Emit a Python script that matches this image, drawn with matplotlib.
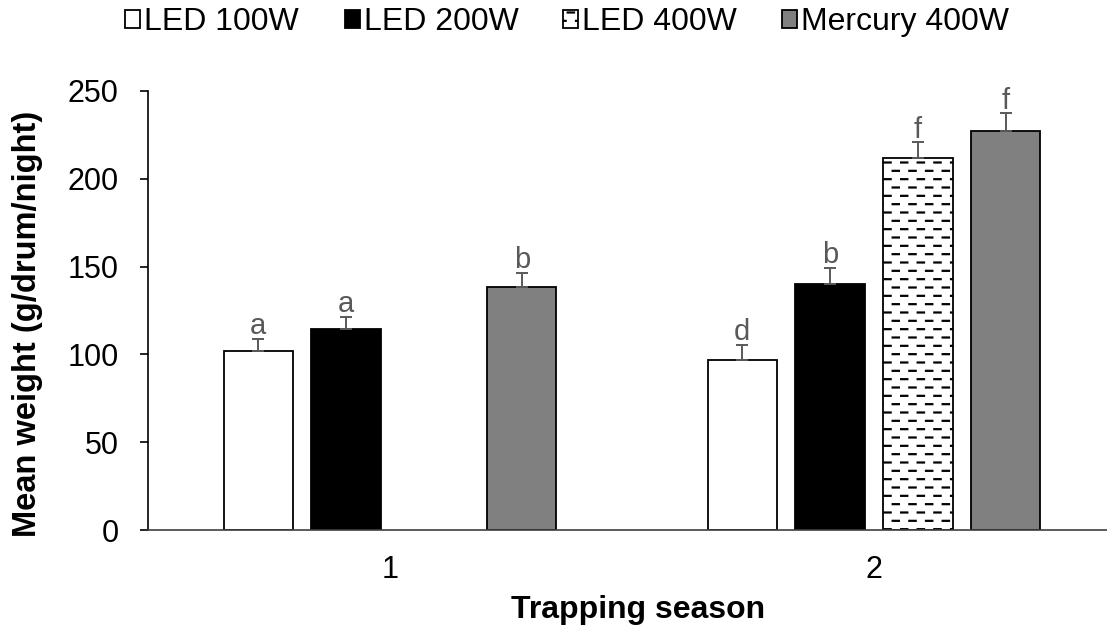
import numpy as np
import matplotlib
matplotlib.use('Agg')
import matplotlib.pyplot as plt
import matplotlib.hatch as mhatch
from matplotlib.path import Path

plt.rcParams['font.family'] = ['Liberation Sans', 'DejaVu Sans']
plt.rcParams['hatch.linewidth'] = 1.6

# data
seasons = [1, 2]
season_labels = ['1', '2']
series = ['LED 100W', 'LED 200W', 'LED 400W', 'Mercury 400W']
led100_mean = [102.0, 96.8]
led200_mean = [114.5, 139.9]
led400_mean = [np.nan, 211.7]
mercury_mean = [138.6, 227.2]
led100_err = [6.8, 8.6]
led200_err = [7.0, 9.5]
led400_err = [np.nan, 9.1]
mercury_err = [7.9, 10.1]
led100_letters = ['a', 'd']
led200_letters = ['a', 'b']
led400_letters = ['', 'f']
mercury_letters = ['b', 'f']


class DashHatch(mhatch.HatchPatternBase):
    # staggered short horizontal dashes, used in place of the plain '-' hatch
    def __init__(self, hatch, density):
        self.num_rows = int(hatch.count('-') * density)
        self.num_dashes = 6
        self.num_vertices = self.num_rows * self.num_dashes * 2

    def set_vertices_and_codes(self, vertices, codes):
        period = 1.0 / self.num_dashes
        dash = 0.38 * period
        ys = (np.arange(self.num_rows) + 0.5) / self.num_rows
        i = 0
        for r, y in enumerate(ys):
            shift = 0.01 + (r % 2) * period / 2
            for k in range(self.num_dashes):
                x0 = k * period + shift
                vertices[i] = (x0, y)
                vertices[i + 1] = (x0 + dash, y)
                codes[i] = Path.MOVETO
                codes[i + 1] = Path.LINETO
                i += 2


mhatch._hatch_types = [DashHatch if t is mhatch.HorizontalHatch else t
                       for t in mhatch._hatch_types]

fig = plt.figure(figsize=(11.07, 6.26), dpi=100)
ax = fig.add_axes([148 / 1107, 1 - 530 / 626, 968 / 1107, 439 / 626])

means = [led100_mean, led200_mean, led400_mean, mercury_mean]
errs = [led100_err, led200_err, led400_err, mercury_err]
letters = [led100_letters, led200_letters, led400_letters, mercury_letters]
faces = ['white', 'black', 'white', '#808080']
hatches = [None, None, '--', None]

x = np.array(seasons, dtype=float)
step = 0.1818
width = 0.1426
handles = []
for i in range(4):
    xs = x + (i - 1.5) * step
    b = ax.bar(xs, means[i], width, color=faces[i], edgecolor='black',
               linewidth=1.3, hatch=hatches[i], label=series[i], zorder=2)
    handles.append(b)
    ax.errorbar(xs, means[i], yerr=[np.zeros(2), errs[i]], fmt='none',
                ecolor='#595959', elinewidth=1.4, capsize=4, capthick=1.4,
                zorder=3)
    for xi, m, e, t in zip(xs, means[i], errs[i], letters[i]):
        if t:
            ax.annotate(t, (xi, m + e), xytext=(0, -1), textcoords='offset points',
                        ha='center', va='bottom', fontsize=21, color='#595959')

ax.set_xlim(0.5, 2.5)
ax.set_ylim(0, 250)
ax.set_yticks([0, 50, 100, 150, 200, 250])
ax.set_xticks(seasons)
ax.set_xticklabels(season_labels)
ax.tick_params(axis='y', length=6, width=1.2, pad=15, labelsize=22)
ax.tick_params(axis='x', length=0, pad=18, labelsize=22)
for s in ['top', 'right']:
    ax.spines[s].set_visible(False)
ax.spines['left'].set_linewidth(1.2)
ax.spines['bottom'].set_linewidth(1.2)
ax.spines['bottom'].set_color('#404040')

ax.set_ylabel('Mean weight (g/drum/night)', fontsize=23.5, fontweight='bold')
ax.set_xlabel('Trapping season', fontsize=23, fontweight='bold')
ax.xaxis.set_label_coords((638 - 148) / 968, -(595 - 530) / 439)
ax.yaxis.set_label_coords(-(148 - 43) / 968, (530 - 324) / 439)

# one legend entry per position, as in the reference
legend_x = [125, 345, 563, 782]
for h, s, lx in zip(handles, series, legend_x):
    fig.legend([h], [s], loc='center left', bbox_to_anchor=(lx / 1107, 1 - 22 / 626),
               frameon=False, fontsize=23, handlelength=0.48, handleheight=0.48,
               handletextpad=0.1, borderpad=0, borderaxespad=0)

fig.savefig('out.png', dpi=100)
